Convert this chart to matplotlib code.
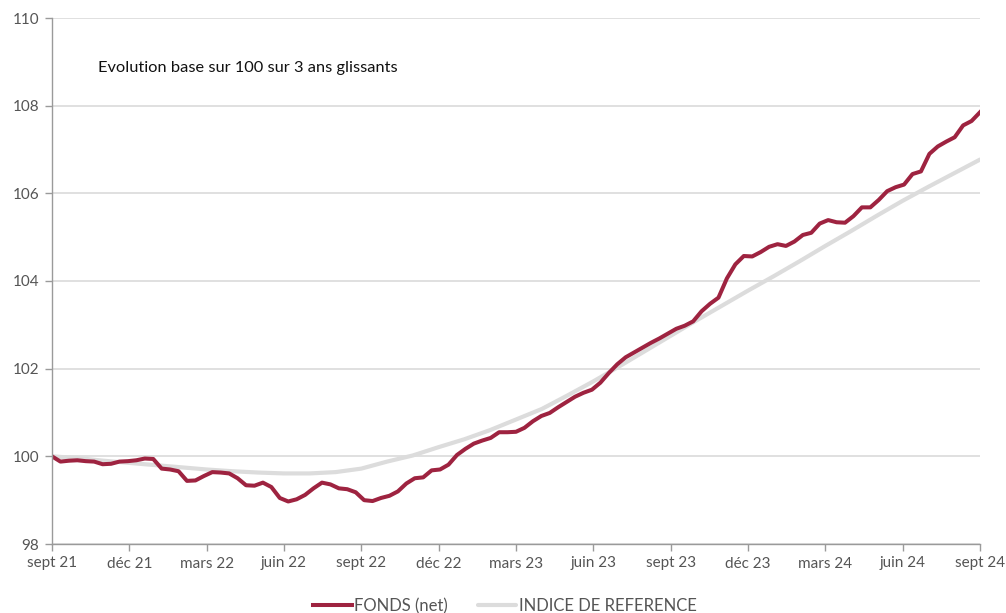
import matplotlib
matplotlib.use("Agg")
import matplotlib.pyplot as plt
import pandas as pd

# ---------------- data ----------------
start, end = "2021-09-30", "2024-09-30"

fonds_values = [
    100.00, 99.88, 99.90, 99.91, 99.89, 99.88, 99.82, 99.83, 99.88, 99.89,
    99.91, 99.95, 99.94, 99.72, 99.70, 99.66, 99.44, 99.45, 99.55, 99.64,
    99.63, 99.61, 99.50, 99.34, 99.33, 99.40, 99.30, 99.05, 98.97, 99.02,
    99.12, 99.27, 99.40, 99.36, 99.27, 99.25, 99.18, 99.00, 98.98, 99.05,
    99.10, 99.20, 99.38, 99.50, 99.52, 99.68, 99.70, 99.81, 100.03, 100.17,
    100.29, 100.36, 100.42, 100.55, 100.55, 100.56, 100.65, 100.80, 100.92, 100.99,
    101.12, 101.24, 101.36, 101.45, 101.52, 101.68, 101.90, 102.10, 102.26, 102.37,
    102.48, 102.59, 102.69, 102.80, 102.91, 102.98, 103.08, 103.31, 103.48, 103.62,
    104.06, 104.38, 104.57, 104.56, 104.66, 104.78, 104.84, 104.80, 104.90, 105.05,
    105.10, 105.31, 105.39, 105.34, 105.33, 105.48, 105.68, 105.68, 105.85, 106.05,
    106.14, 106.20, 106.44, 106.50, 106.90, 107.07, 107.18, 107.28, 107.55, 107.65,
    107.85,
]

indice_values = [
    100.00, 99.96, 99.90, 99.85, 99.80, 99.75, 99.70, 99.66, 99.63, 99.61,
    99.61, 99.64, 99.72, 99.88, 100.02, 100.21, 100.39, 100.60, 100.84, 101.08,
    101.39, 101.71, 102.05, 102.40, 102.75, 103.10, 103.44, 103.78, 104.11, 104.45,
    104.80, 105.14, 105.49, 105.83, 106.15, 106.46, 106.77,
]

tick_labels = ["sept 21", "déc 21", "mars 22", "juin 22", "sept 22", "déc 22",
               "mars 23", "juin 23", "sept 23", "déc 23", "mars 24", "juin 24", "sept 24"]
y_ticks = [98, 100, 102, 104, 106, 108, 110]

series_names = ["FONDS (net)", "INDICE DE REFERENCE"]
title_text = "Evolution base sur 100 sur 3 ans glissants"

fonds_dates = pd.date_range(start, end, periods=len(fonds_values))
indice_dates = pd.date_range(start, end, periods=len(indice_values))
tick_dates = pd.date_range(start, end, periods=len(tick_labels))

# ---------------- style ----------------
RED = "#9E2340"
GREY_LINE = "#DCDCDC"
GRID = "#DDDDDD"
AXIS = "#9A9A9A"
TXT = "#555555"
FONT = ["Lato", "DejaVu Sans"]
plt.rcParams["font.family"] = FONT

W, H = 1006, 613
fig = plt.figure(figsize=(W / 100, H / 100), dpi=100)
ax = fig.add_axes([52 / W, 1 - 544 / H, 928 / W, 526 / H])

ax.plot(indice_dates, indice_values, color=GREY_LINE, lw=3.0,
        solid_capstyle="round", label=series_names[1], zorder=2)
ax.plot(fonds_dates, fonds_values, color=RED, lw=2.9,
        solid_joinstyle="round", label=series_names[0], zorder=3)

ax.set_xlim(fonds_dates[0], fonds_dates[-1])
ax.set_ylim(98, 110)
ax.set_yticks(y_ticks)
ax.set_yticklabels([str(v) for v in y_ticks])
ax.set_xticks(tick_dates)
ax.set_xticklabels(tick_labels)

ax.grid(axis="y", color=GRID, lw=1.3)
ax.set_axisbelow(True)
for s in ["top", "right"]:
    ax.spines[s].set_visible(False)
for s in ["left", "bottom"]:
    ax.spines[s].set_color(AXIS)
    ax.spines[s].set_linewidth(1.0)
    ax.spines[s].set_zorder(4)

ax.tick_params(axis="both", colors=AXIS, labelcolor=TXT, labelsize=11, width=1.0)
ax.tick_params(axis="y", length=5, pad=4)
ax.tick_params(axis="x", length=5, pad=4)

ax.text((98 - 52) / 928, 1 - (68 - 18) / 526, title_text,
        transform=ax.transAxes, fontsize=11.8, color="#111111",
        va="center", ha="left")

handles, labels = ax.get_legend_handles_labels()
order = [1, 0]
fig.legend([handles[i] for i in order], [labels[i] for i in order],
           loc="center", bbox_to_anchor=(0.502, 0.011), ncol=2, frameon=False,
           fontsize=12, handlelength=2.3, handletextpad=0.15,
           columnspacing=1.8, labelcolor=TXT)

fig.savefig("out.png", dpi=100)
